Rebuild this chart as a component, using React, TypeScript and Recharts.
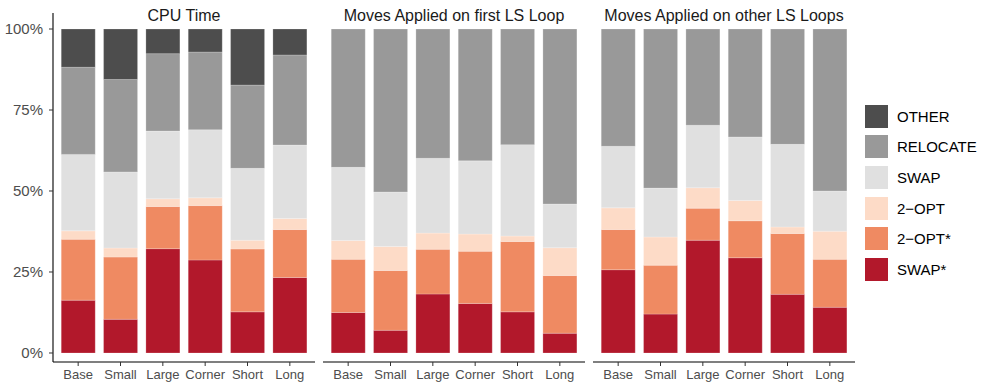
import React from 'react';
import { BarChart, Bar, XAxis, YAxis, Legend } from 'recharts';

const categories = ['Base', 'Small', 'Large', 'Corner', 'Short', 'Long'];
const yTicks = [0, 25, 50, 75, 100];

// CPU Time (% share per move type)
const cpuSwapStar = [16.3, 10.4, 32.2, 28.7, 12.7, 23.3];
const cpuTwoOptStar = [18.8, 19.2, 13.0, 16.8, 19.4, 14.8];
const cpuTwoOpt = [2.6, 2.8, 2.4, 2.4, 2.7, 3.4];
const cpuSwap = [23.6, 23.5, 20.9, 21.0, 22.2, 22.7];
const cpuRelocate = [26.9, 28.5, 23.9, 24.0, 25.7, 27.8];
const cpuOther = [11.8, 15.6, 7.6, 7.1, 17.3, 8.0];

// Moves Applied on first LS Loop
const firstSwapStar = [12.5, 7.0, 18.2, 15.3, 12.7, 6.1];
const firstTwoOptStar = [16.4, 18.5, 13.8, 16.1, 21.7, 17.8];
const firstTwoOpt = [5.8, 7.4, 5.0, 5.3, 1.7, 8.6];
const firstSwap = [22.6, 16.8, 23.1, 22.6, 28.2, 13.5];
const firstRelocate = [42.7, 50.3, 39.9, 40.7, 35.7, 54.0];
const firstOther = [0, 0, 0, 0, 0, 0];

// Moves Applied on other LS Loops
const otherSwapStar = [25.7, 12.0, 34.8, 29.4, 18.1, 14.1];
const otherTwoOptStar = [12.4, 15.1, 9.9, 11.4, 18.8, 14.8];
const otherTwoOpt = [6.7, 8.7, 6.3, 6.3, 2.0, 8.7];
const otherSwap = [19.0, 15.1, 19.3, 19.6, 25.5, 12.4];
const otherRelocate = [36.2, 49.1, 29.7, 33.3, 35.6, 50.0];
const otherOther = [0, 0, 0, 0, 0, 0];

// bottom -> top
const SERIES = ['SWAP*', '2\u2212OPT*', '2\u2212OPT', 'SWAP', 'RELOCATE', 'OTHER'];
const COLORS = ['#b2182b', '#ef8a62', '#fddbc7', '#e0e0e0', '#999999', '#4d4d4d'];

const build = (cols: number[][]) =>
    categories.map((name, i) => {
        const row: Record<string, any> = { name };
        SERIES.forEach((s, k) => {
            row[s] = cols[k][i];
        });
        return row;
    });

const cpuData = build([cpuSwapStar, cpuTwoOptStar, cpuTwoOpt, cpuSwap, cpuRelocate, cpuOther]);
const firstData = build([firstSwapStar, firstTwoOptStar, firstTwoOpt, firstSwap, firstRelocate, firstOther]);
const otherData = build([otherSwapStar, otherTwoOptStar, otherTwoOpt, otherSwap, otherRelocate, otherOther]);

const FONT = '"Liberation Sans", Arial, Helvetica, sans-serif';
const DOMAIN: [number, number] = [-2.78, 104.94];

// legend lists top -> bottom, same as the stack read from the top
const LegendBox = () => {
    const items = SERIES.map((s, k) => ({ value: s, color: COLORS[k] })).reverse();
    return (
        <div style={{ fontFamily: FONT }}>
            {items.map((it) => (
                <div key={it.value} style={{ height: 30.6, display: 'flex', alignItems: 'center' }}>
                    <div style={{ width: 23, height: 23, background: it.color }} />
                    <span style={{ marginLeft: 9, fontSize: 15, color: '#000' }}>{it.value}</span>
                </div>
            ))}
        </div>
    );
};

type PanelProps = {
    data: any[];
    left: number;
    width: number;
    margin: { top: number; right: number; bottom: number; left: number };
    title: string;
    showY?: boolean;
    showLegend?: boolean;
};

const Panel: React.FC<PanelProps> = ({ data, left, width, margin, title, showY, showLegend }) => {
    const yW = showY ? 53 : 0;
    const plotLeft = left + margin.left + yW;
    const plotRight = left + width - margin.right;
    return (
        <>
            <div style={{ position: 'absolute', left, top: 0 }}>
                <BarChart width={width} height={384} data={data} margin={margin} barCategoryGap="10%">
                    <XAxis
                        dataKey="name"
                        height={22}
                        padding={{ left: 4, right: 4 }}
                        axisLine={{ stroke: '#000', strokeWidth: 1.1 }}
                        tickLine={{ stroke: '#333' }}
                        tickSize={4}
                        tickMargin={4}
                        interval={0}
                        tick={{ fontSize: 13, fill: '#4d4d4d' }}
                    />
                    <YAxis
                        hide={!showY}
                        width={yW}
                        type="number"
                        domain={DOMAIN}
                        allowDataOverflow
                        ticks={yTicks}
                        tickFormatter={(v: number) => `${v}%`}
                        axisLine={{ stroke: '#000', strokeWidth: 1.1 }}
                        tickLine={{ stroke: '#333' }}
                        tickSize={4}
                        tickMargin={6}
                        tick={{ fontSize: 15, fill: '#4d4d4d' }}
                    />
                    {SERIES.map((s, k) => (
                        <Bar
                            key={s}
                            dataKey={s}
                            stackId="a"
                            fill={COLORS[k]}
                            stroke="#ffffff"
                            strokeOpacity={0.35}
                            strokeWidth={0.6}
                            isAnimationActive={false}
                        />
                    ))}
                    {showLegend && (
                        <Legend
                            layout="vertical"
                            align="center"
                            verticalAlign="middle"
                            content={LegendBox}
                            wrapperStyle={{ left: 277, top: 101, width: 120 }}
                        />
                    )}
                </BarChart>
            </div>
            <div
                style={{
                    position: 'absolute',
                    left: plotLeft,
                    width: plotRight - plotLeft,
                    top: 8,
                    textAlign: 'center',
                    fontFamily: FONT,
                    fontSize: 16,
                    lineHeight: '16px',
                    color: '#1a1a1a',
                    whiteSpace: 'nowrap',
                }}
            >
                {title}
            </div>
        </>
    );
};

const App: React.FC = () => {
    return (
        <div style={{ position: 'absolute', left: 0, top: 0, width: 984, height: 384, background: '#fff', fontFamily: FONT }}>
            <Panel data={cpuData} left={0} width={320} margin={{ top: 13, right: 5, bottom: 0, left: 0 }} title="CPU Time" showY />
            <Panel data={firstData} left={318} width={270} margin={{ top: 13, right: 3, bottom: 0, left: 5 }} title="Moves Applied on first LS Loop" />
            <Panel data={otherData} left={588} width={396} margin={{ top: 13, right: 129, bottom: 0, left: 5 }} title="Moves Applied on other LS Loops" showLegend />
        </div>
    );
};

export default App;
